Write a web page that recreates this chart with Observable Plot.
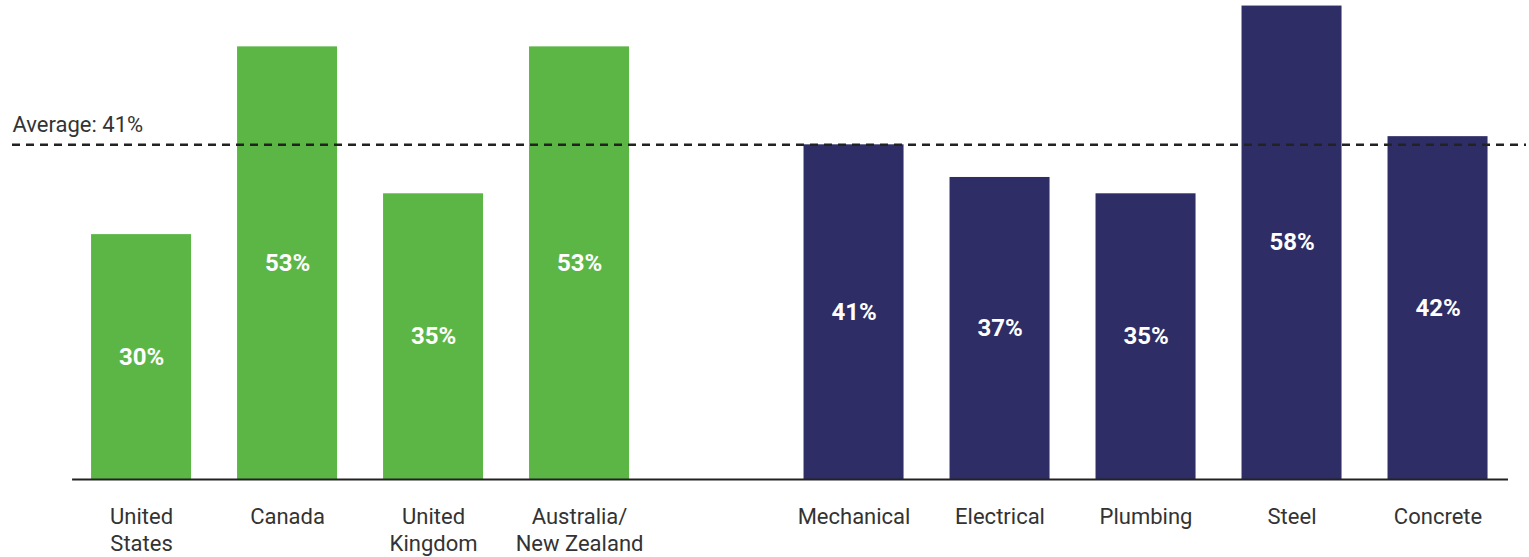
<!DOCTYPE html>
<html>
<head>
<meta charset="utf-8">
<script src="https://cdn.jsdelivr.net/npm/d3@7"></script>
<script src="https://cdn.jsdelivr.net/npm/@observablehq/plot@0.6"></script>
<style>
  html, body { margin: 0; padding: 0; background: #fff; }
  #chart svg { display: block; }
</style>
</head>
<body>
<div id="chart"></div>
<script>
// ---- data ----
const countries = ["United\nStates", "Canada", "United\nKingdom", "Australia/\nNew Zealand"];
const countryValues = [30, 53, 35, 53];
const trades = ["Mechanical", "Electrical", "Plumbing", "Steel", "Concrete"];
const tradeValues = [41, 37, 35, 58, 42];
const average = 41;
const averageLabel = "Average: 41%";

// ---- layout constants ----
const GROUP_GAP = 0.88;   // extra spacing (in bar steps) between the two groups
const BAR_W = 0.685;      // bar width in steps
const green = "#5cb646";
const navy = "#2e2d66";

const rows = [
  ...countries.map((name, i) => ({name, value: countryValues[i], pos: i, color: green})),
  ...trades.map((name, i) => ({name, value: tradeValues[i], pos: countries.length + GROUP_GAP + i, color: navy}))
];
rows.forEach(d => { d.x1 = d.pos - BAR_W / 2; d.x2 = d.pos + BAR_W / 2; });
const first = rows[0], last = rows[rows.length - 1];

const W = 1529, H = 557;
const plot = Plot.plot({
  width: W,
  height: H,
  marginTop: 8,
  marginBottom: 78,
  marginLeft: 12,
  marginRight: 3,
  style: {fontFamily: "Roboto, 'Open Sans', sans-serif", background: "#fff"},
  x: {domain: [-0.884, 9.486], axis: null},
  y: {domain: [0, 57.7], axis: null},
  marks: [
    Plot.rectY(rows, {x1: "x1", x2: "x2", y1: 0, y2: "value", fill: "color"}),
    Plot.ruleY([0], {x1: first.x1 - 0.13, x2: last.x2 + 0.14, stroke: "#222", strokeWidth: 2}),
    Plot.ruleY([average], {stroke: "#222", strokeWidth: 2.4, strokeDasharray: "8,6"}),
    Plot.text([averageLabel], {frameAnchor: "left", y: average, dy: -20, text: d => d, textAnchor: "start", fontSize: 22, fill: "#333"}),
    Plot.text(rows, {x: "pos", y: d => d.value / 2, text: d => d.value + "%", fill: "#fff", fontSize: 24, fontWeight: "bold"}),
    Plot.text(rows, {x: "pos", y: 0, text: "name", lineAnchor: "top", dy: 25, fontSize: 22, fill: "#333", lineHeight: 1.23})
  ]
});
document.getElementById("chart").appendChild(plot);
</script>
</body>
</html>
